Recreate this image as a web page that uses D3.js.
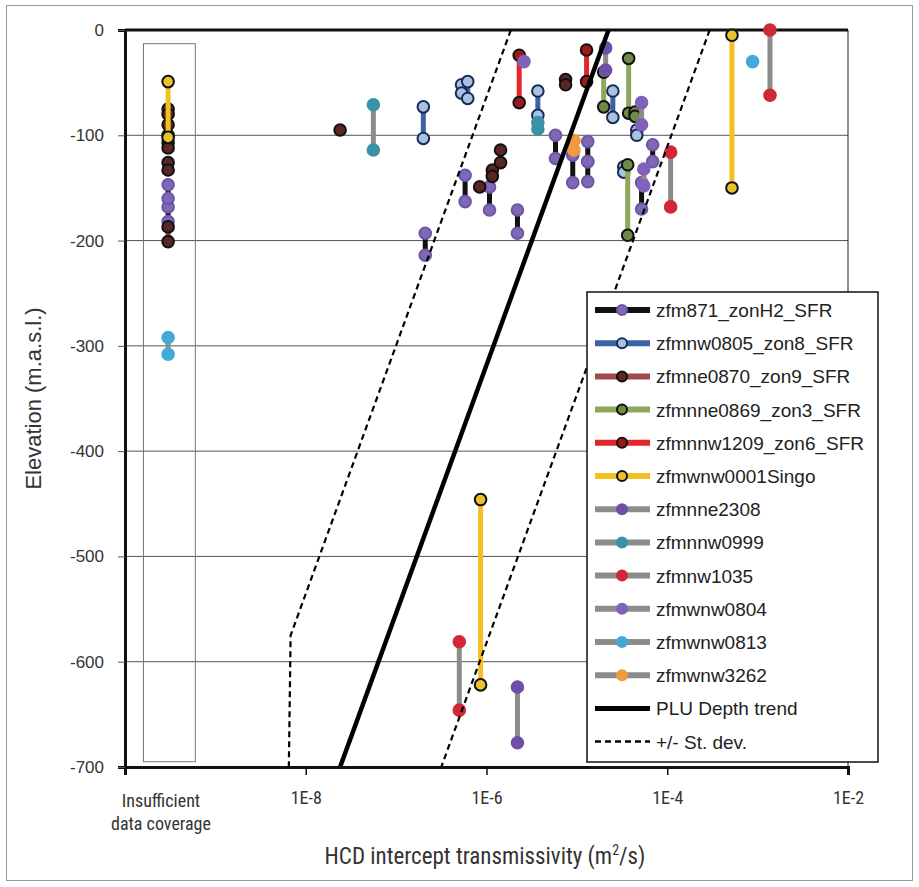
<!DOCTYPE html>
<html>
<head>
<meta charset="utf-8">
<script src="https://cdn.jsdelivr.net/npm/d3@7"></script>
<style>
  html, body { margin: 0; padding: 0; background: #fff; }
  svg { display: block; }
  .narrow { font-family: "Liberation Sans Narrow", "Arial Narrow", "Roboto Condensed", sans-serif; }
  .reg { font-family: "Liberation Sans", Arial, sans-serif; }
</style>
</head>
<body>
<svg id="chart" width="919" height="887"></svg>
<script>
// ---- data (T in m2/s, elevations in m.a.s.l.; each row = [T, top, bottom]) ----
// T = 3e-10 stands for the "insufficient data coverage" column
const seriesNames = [
  "zfm871_zonH2_SFR", "zfmnw0805_zon8_SFR", "zfmne0870_zon9_SFR", "zfmnne0869_zon3_SFR",
  "zfmnnw1209_zon6_SFR", "zfmwnw0001Singo", "zfmnne2308", "zfmnnw0999",
  "zfmnw1035", "zfmwnw0804", "zfmwnw0813", "zfmwnw3262"
];

const zfm871 = [
  [3.0e-10, -147, -168], [3.0e-10, -160, -182], [5.8e-7, -138, -163], [1.08e-6, -149, -171],
  [2.2e-6, -171, -193], [2.1e-7, -193, -214], [5.8e-6, -100, -122], [9.0e-6, -119, -145],
  [1.32e-5, -106, -125], [1.32e-5, -125, -144], [6.9e-5, -109, -125], [5.2e-5, -145, -170]
];
const zfmnw0805 = [
  [2.0e-7, -73, -103], [5.3e-7, -52, -60], [6.2e-7, -49, -65], [3.7e-6, -58, -81],
  [2.5e-5, -58, -83], [4.6e-5, -95, -100], [3.3e-5, -130, -135]
];
const zfmne0870 = [
  [3.0e-10, -75, -100], [3.0e-10, -80, -90], [3.0e-10, -107, -112], [3.0e-10, -126, -133],
  [3.0e-10, -187, -201], [2.4e-8, -95, -95], [8.4e-7, -149, -149], [1.16e-6, -133, -139],
  [1.43e-6, -114, -126], [7.5e-6, -47, -52]
];
const zfmnne0869 = [
  [1.98e-5, -40, -73], [3.74e-5, -27, -79], [4.4e-5, -78, -82], [3.65e-5, -128, -195]
];
const zfmnnw1209 = [[2.3e-6, -24, -69], [1.28e-5, -19, -49]];
const zfmwnw0001Singo = [[3.0e-10, -49, -102], [5.2e-4, -5, -150], [8.6e-7, -446, -622]];
const zfmnne2308 = [[2.08e-5, -17, -38], [2.2e-6, -624, -677]];
const zfmnnw0999 = [[5.6e-8, -71, -114], [3.7e-6, -88, -94]];
const zfmnw1035 = [[1.37e-3, 0, -62], [1.09e-4, -116, -168], [5.0e-7, -581, -646]];
const zfmwnw0804 = [[2.6e-6, -30, -30], [5.2e-5, -69, -90], [5.5e-5, -132, -148]];
const zfmwnw0813 = [[3.0e-10, -292, -308], [8.8e-4, -30, -30]];
const zfmwnw3262 = [[9.3e-6, -105, -114]];

const seriesData = [
  zfm871, zfmnw0805, zfmne0870, zfmnne0869, zfmnnw1209, zfmwnw0001Singo,
  zfmnne2308, zfmnnw0999, zfmnw1035, zfmwnw0804, zfmwnw0813, zfmwnw3262
];

// PLU depth trend and +/- st. dev. lines: [T, elevation]
const trendLine = [[2.24e-5, 0], [2.4e-8, -700]];
const devLower = [[1.86e-6, 0], [6.8e-9, -575], [6.5e-9, -700]];
const devUpper = [[2.95e-4, 0], [3.16e-7, -700]];

const xTicks = [1e-10, 1e-8, 1e-6, 1e-4, 1e-2];
const yTicks = [0, -100, -200, -300, -400, -500, -600, -700];
const insufficientBox = { t0: 1.6e-10, t1: 6.0e-10, top: -13, bottom: -695 };
const insufficientLabel = ["Insufficient", "data coverage"];
const insufficientLabelT = 2.5e-10;

// ---- styles ----
const lineColors = ["#111111", "#3a62a6", "#a04a4c", "#8ea75a", "#e2262b", "#f4c021",
  "#8c8c8c", "#8c8c8c", "#8c8c8c", "#8c8c8c", "#8c8c8c", "#8c8c8c"];
const markFill = ["#8068b6", "#a9c2e2", "#5a2626", "#6f8a45", "#9c1a1a", "#e9c22c",
  "#6f4fa8", "#3a92a8", "#d12838", "#8062ba", "#42aad8", "#f19a3e"];
const markStroke = ["#6a58a6", "#1b2a55", "#111111", "#111111", "#111111", "#111111",
  "#6f4fa8", "#3a92a8", "#d12838", "#8062ba", "#42aad8", "#f19a3e"];

const d3 = window.d3;
const svg = d3.select("#chart");
const W = 919, H = 887;
const margin = { left: 125, right: 71, top: 30, bottom: 120 };

const x = d3.scaleLog().domain([1e-10, 1e-2]).range([margin.left, W - margin.right]);
const y = d3.scaleLinear().domain([-700, 0]).range([H - margin.bottom, margin.top]);

// outer frame
svg.append("rect")
  .attr("x", 6.5).attr("y", 5.5).attr("width", W - 13).attr("height", H - 12)
  .attr("fill", "#fff").attr("stroke", "#9a9a9a").attr("stroke-width", 1);

// grid
svg.append("g")
  .selectAll("line")
  .data(yTicks.filter(v => v > -700 && v < 0))
  .join("line")
  .attr("x1", x(1e-10)).attr("x2", x(1e-2))
  .attr("y1", d => y(d)).attr("y2", d => y(d))
  .attr("stroke", "#555").attr("stroke-width", 1);

// insufficient data box
svg.append("rect")
  .attr("x", x(insufficientBox.t0)).attr("y", y(insufficientBox.top))
  .attr("width", x(insufficientBox.t1) - x(insufficientBox.t0))
  .attr("height", y(insufficientBox.bottom) - y(insufficientBox.top))
  .attr("fill", "none").attr("stroke", "#777").attr("stroke-width", 1);

// plot frame
svg.append("line").attr("x1", x(1e-2)).attr("x2", x(1e-2)).attr("y1", y(0)).attr("y2", y(-700))
  .attr("stroke", "#222").attr("stroke-width", 1);
svg.append("line").attr("x1", x(1e-10)).attr("x2", x(1e-2)).attr("y1", y(0)).attr("y2", y(0))
  .attr("stroke", "#111").attr("stroke-width", 3);

// series
const gData = svg.append("g");
seriesData.forEach((rows, i) => {
  const g = gData.append("g");
  g.selectAll("line")
    .data(rows.filter(r => r[1] !== r[2]))
    .join("line")
    .attr("x1", d => x(d[0])).attr("x2", d => x(d[0]))
    .attr("y1", d => y(d[1])).attr("y2", d => y(d[2]))
    .attr("stroke", lineColors[i]).attr("stroke-width", 5);
  const pts = rows.flatMap(r => r[1] === r[2] ? [[r[0], r[1]]] : [[r[0], r[1]], [r[0], r[2]]]);
  g.selectAll("circle")
    .data(pts)
    .join("circle")
    .attr("cx", d => x(d[0])).attr("cy", d => y(d[1]))
    .attr("r", 5.8)
    .attr("fill", markFill[i]).attr("stroke", markStroke[i]).attr("stroke-width", 2);
});

// trend lines
const lineGen = d3.line().x(d => x(d[0])).y(d => y(d[1]));
svg.append("path").attr("d", lineGen(trendLine)).attr("fill", "none")
  .attr("stroke", "#000").attr("stroke-width", 4.5);
[devLower, devUpper].forEach(l => {
  svg.append("path").attr("d", lineGen(l)).attr("fill", "none")
    .attr("stroke", "#000").attr("stroke-width", 2.2).attr("stroke-dasharray", "6,4");
});

// axes
const gx = svg.append("g")
  .attr("transform", `translate(0,${y(-700)})`)
  .call(d3.axisBottom(x).tickValues(xTicks).tickSize(8).tickPadding(16)
    .tickFormat(d => d === 1e-10 ? "" : "1E" + Math.round(Math.log10(d))));
gx.select(".domain").attr("stroke", "#111").attr("stroke-width", 3);
gx.selectAll(".tick line").attr("stroke", "#111").attr("stroke-width", 1.5);
gx.selectAll(".tick text").attr("class", "narrow").attr("font-size", 18).attr("fill", "#333");

const gy = svg.append("g")
  .attr("transform", `translate(${x(1e-10)},0)`)
  .call(d3.axisLeft(y).tickValues(yTicks).tickSize(7).tickPadding(14)
    .tickFormat(d => String(d)));
gy.select(".domain").attr("stroke", "#111").attr("stroke-width", 3);
gy.selectAll(".tick line").attr("stroke", "#555").attr("stroke-width", 1);
gy.selectAll(".tick text").attr("class", "reg").attr("font-size", 17).attr("fill", "#333");

svg.append("text").attr("class", "narrow")
  .attr("x", x(insufficientLabelT)).attr("y", y(-700) + 40)
  .attr("text-anchor", "middle").attr("font-size", 18).attr("fill", "#333")
  .selectAll("tspan").data(insufficientLabel).join("tspan")
  .attr("x", x(insufficientLabelT)).attr("dy", (d, i) => i ? 23 : 0).text(d => d);

// axis titles
const xt = svg.append("text").attr("class", "narrow")
  .attr("x", 485).attr("y", 864).attr("text-anchor", "middle")
  .attr("font-size", 23).attr("fill", "#333");
xt.append("tspan").text("HCD intercept transmissivity  (m");
xt.append("tspan").attr("font-size", 14).attr("dy", -9).text("2");
xt.append("tspan").attr("dy", 9).text("/s)");

svg.append("text").attr("class", "reg")
  .attr("transform", `translate(41,${(y(0) + y(-700)) / 2}) rotate(-90)`)
  .attr("text-anchor", "middle").attr("font-size", 22).attr("fill", "#333")
  .text("Elevation (m.a.s.l.)");

// legend
const legItems = seriesNames.map((n, i) => ({ name: n, type: "series", i }))
  .concat([{ name: "PLU Depth trend", type: "trend" }, { name: "+/- St. dev.", type: "dev" }]);
const lg = svg.append("g").attr("transform", "translate(587,292)");
lg.append("rect").attr("width", 291).attr("height", 470)
  .attr("fill", "#fff").attr("stroke", "#111").attr("stroke-width", 1.5);
const rowH = 33.2;
legItems.forEach((it, k) => {
  const cy = 18 + k * rowH;
  const row = lg.append("g").attr("transform", `translate(0,${cy})`);
  if (it.type === "series") {
    row.append("line").attr("x1", 8).attr("x2", 63).attr("y1", 0).attr("y2", 0)
      .attr("stroke", lineColors[it.i]).attr("stroke-width", 6);
    row.append("circle").attr("cx", 35).attr("cy", 0).attr("r", 5)
      .attr("fill", markFill[it.i]).attr("stroke", markStroke[it.i]).attr("stroke-width", 2);
  } else if (it.type === "trend") {
    row.append("line").attr("x1", 8).attr("x2", 63).attr("y1", 0).attr("y2", 0)
      .attr("stroke", "#000").attr("stroke-width", 5);
  } else {
    row.append("line").attr("x1", 8).attr("x2", 63).attr("y1", 0).attr("y2", 0)
      .attr("stroke", "#000").attr("stroke-width", 2.5).attr("stroke-dasharray", "6,4");
  }
  row.append("text").attr("class", "reg").attr("x", 69).attr("y", 7)
    .attr("font-size", 19).attr("fill", "#222").text(it.name);
});
</script>
</body>
</html>
